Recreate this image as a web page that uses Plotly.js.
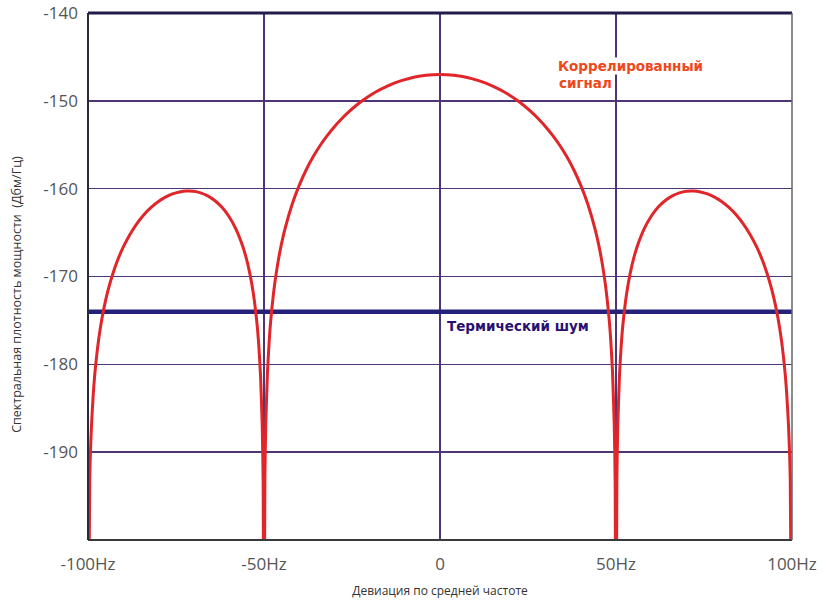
<!DOCTYPE html>
<html>
<head>
<meta charset="utf-8">
<script src="https://cdn.plot.ly/plotly-3.0.1.min.js"></script>
<style>html,body{margin:0;padding:0;background:#fff;}#chart{width:823px;height:600px;}</style>
</head>
<body>
<div id="chart"></div>
<script>
// Frequency deviation, Hz
var freqHz = [-100, -99.5, -99, -98.5, -98, -97, -96, -95, -94, -92, -90, -88, -86, -84, -82, -80, -78, -76, -74, -72, -70, -68, -66, -64, -62, -60, -58, -56, -55, -54, -53, -52, -51.5, -51, -50.5, -50.25, -50,
  -49.75, -49.5, -49, -48.5, -48, -47, -46, -45, -44, -42, -40, -38, -36, -34, -32, -30, -28, -26, -24, -22, -20, -18, -16, -14, -12, -10, -8, -6, -4, -2, 0,
  2, 4, 6, 8, 10, 12, 14, 16, 18, 20, 22, 24, 26, 28, 30, 32, 34, 36, 38, 40, 42, 44, 45, 46, 47, 48, 48.5, 49, 49.5, 49.75, 50,
  50.25, 50.5, 51, 51.5, 52, 53, 54, 55, 56, 58, 60, 62, 64, 66, 68, 70, 72, 74, 76, 78, 80, 82, 84, 86, 88, 90, 92, 94, 95, 96, 97, 98, 98.5, 99, 99.5, 100];
// Correlated signal PSD, dBm/Hz
var signalDbm = [-220, -192.98, -186.92, -183.36, -180.83, -177.24, -174.70, -172.72, -171.11, -168.58, -166.66, -165.15, -163.92, -162.92, -162.11, -161.46, -160.96, -160.60, -160.37, -160.27, -160.30, -160.48, -160.82, -161.35, -162.10, -163.14, -164.58, -166.61, -167.97, -169.70, -172.00, -175.32, -177.73, -181.16, -187.09, -193.07, -220,
  -193.0, -186.91, -180.81, -177.20, -174.63, -170.95, -168.31, -166.23, -164.51, -161.77, -159.62, -157.85, -156.35, -155.06, -153.94, -152.94, -152.06, -151.28, -150.59, -149.97, -149.42, -148.94, -148.52, -148.15, -147.84, -147.58, -147.37, -147.21, -147.09, -147.02, -147.0,
  -147.02, -147.09, -147.21, -147.37, -147.58, -147.84, -148.15, -148.52, -148.94, -149.42, -149.97, -150.59, -151.28, -152.06, -152.94, -153.94, -155.06, -156.35, -157.85, -159.62, -161.77, -164.51, -166.23, -168.31, -170.95, -174.63, -177.20, -180.81, -186.91, -193.0, -220,
  -193.07, -187.09, -181.16, -177.73, -175.32, -172.00, -169.70, -167.97, -166.61, -164.58, -163.14, -162.10, -161.35, -160.82, -160.48, -160.30, -160.27, -160.37, -160.60, -160.96, -161.46, -162.11, -162.92, -163.92, -165.15, -166.66, -168.58, -171.11, -172.72, -174.70, -177.24, -180.83, -183.36, -186.92, -192.98, -220];
// Thermal noise level
var noiseX = [-100, 100];
var noiseDbm = [-174, -174];
// Axis ticks
var xTickVals = [-100, -50, 0, 50, 100];
var xTickText = ["-100Hz", "-50Hz", "0", "50Hz", "100Hz"];
var yTickVals = [-140, -150, -160, -170, -180, -190];
var yTickText = ["-140", "-150", "-160", "-170", "-180", "-190"];

var traces = [
  {x: noiseX, y: noiseDbm, mode: "lines", line: {color: "#25207a", width: 4.5}, hoverinfo: "skip"},
  {x: freqHz, y: signalDbm, mode: "lines", line: {color: "#e0262a", width: 3, shape: "spline", smoothing: 0.6}, hoverinfo: "skip"}
];

var gridColor = "#4e3676";
var layout = {
  width: 823, height: 600,
  margin: {l: 88, r: 31, t: 13, b: 60},
  paper_bgcolor: "#ffffff", plot_bgcolor: "#ffffff",
  showlegend: false,
  font: {family: "Open Sans, DejaVu Sans, sans-serif", color: "#555555"},
  xaxis: {
    range: [-100, 100], tickvals: xTickVals, ticktext: xTickText,
    showgrid: true, gridcolor: gridColor, gridwidth: 1.5, zeroline: false,
    showline: false, ticks: "", ticklabelstandoff: 12,
    tickfont: {size: 17, color: "#555555"},
    title: {text: "Девиация по средней частоте", font: {size: 12, color: "#333333"}, standoff: 12}
  },
  yaxis: {
    range: [-200, -140], tickvals: yTickVals, ticktext: yTickText,
    showgrid: true, gridcolor: gridColor, gridwidth: 1.5, zeroline: false,
    showline: false, ticks: "", ticklabelstandoff: 9,
    tickfont: {size: 17, color: "#555555"}
  },
  shapes: [
    {type: "line", xref: "paper", yref: "paper", x0: 0, x1: 1, y0: 1, y1: 1, line: {color: "#231a48", width: 3}},
    {type: "line", xref: "paper", yref: "paper", x0: 0, x1: 1, y0: 0, y1: 0, line: {color: "#3a3a3a", width: 2}},
    {type: "line", xref: "paper", yref: "paper", x0: 0, x1: 0, y0: 0, y1: 1, line: {color: "#2a2a3a", width: 2}},
    {type: "line", xref: "paper", yref: "paper", x0: 1, x1: 1, y0: 0, y1: 1, line: {color: "#666666", width: 1.5}}
  ],
  annotations: [
    {x: -0.101, y: 0.467, xref: "paper", yref: "paper", text: "Спектральная плотность мощности  (Дбм/Гц)",
     textangle: -90, showarrow: false, xanchor: "center", yanchor: "middle",
     font: {family: "Open Sans, DejaVu Sans, sans-serif", size: 12.5, color: "#333333"}},
    {x: 33.3, y: -146.0, xref: "x", yref: "y", text: "<b>Коррелированный</b>", showarrow: false,
     xanchor: "left", yanchor: "middle", bgcolor: "#ffffff", borderpad: 0,
     font: {family: "DejaVu Sans, Verdana, sans-serif", size: 13.5, color: "#f0471a"}},
    {x: 33.3, y: -148.0, xref: "x", yref: "y", text: "<b>сигнал</b>", showarrow: false,
     xanchor: "left", yanchor: "middle",
     font: {family: "DejaVu Sans, Verdana, sans-serif", size: 13.5, color: "#f0471a"}},
    {x: 1.4, y: -175.6, xref: "x", yref: "y", text: "<b>Термический шум</b>", showarrow: false,
     xanchor: "left", yanchor: "middle",
     font: {family: "DejaVu Sans, Verdana, sans-serif", size: 13.5, color: "#2a1070"}}
  ]
};

Plotly.newPlot("chart", traces, layout, {staticPlot: true, displayModeBar: false});
</script>
</body>
</html>
